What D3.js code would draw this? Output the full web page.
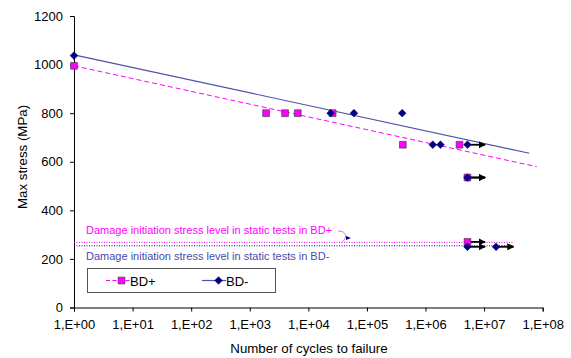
<!DOCTYPE html>
<html>
<head>
<meta charset="utf-8">
<script src="https://cdn.jsdelivr.net/npm/d3@7"></script>
<style>
  html, body { margin: 0; padding: 0; background: #fff; }
  svg { display: block; font-family: "Liberation Sans", Arial, sans-serif; }
</style>
</head>
<body>
<svg id="chart" width="571" height="358"></svg>
<script>
// S-N fatigue data: cycles to failure vs. max stress (MPa)
const bdPlusCycles  = [1, 1.9e3, 4.0e3, 6.6e3, 2.6e4, 4.1e5, 3.8e6, 5.2e6, 5.2e6];
const bdPlusStress  = [995, 800, 800, 800, 800, 670, 670, 535, 270];
const bdPlusRunout  = [0, 0, 0, 0, 0, 0, 0, 1, 1];

const bdMinusCycles = [1, 2.4e4, 6.0e4, 4.0e5, 1.33e6, 1.8e6, 5.2e6, 5.2e6, 5.2e6, 1.6e7];
const bdMinusStress = [1037, 800, 800, 800, 670, 670, 670, 535, 250, 250];
const bdMinusRunout = [0, 0, 0, 0, 0, 0, 1, 1, 1, 1];

// Log-linear trend lines: stress = a + b * log10(N), drawn up to N = end
const trendPlus  = { a: 995,  b: -52.6, end: 7.9e7 };
const trendMinus = { a: 1040, b: -52.1, end: 5.9e7 };

// Damage initiation stress levels from static tests
const staticPlus  = 268;
const staticMinus = 254;
const staticEnd   = 3.1e7;

const xTickExps  = [0, 1, 2, 3, 4, 5, 6, 7, 8];
const yTickVals  = [0, 200, 400, 600, 800, 1000, 1200];

const pink = "#ff00ff", navy = "#000080", blueLine = "#5050aa", blueText = "#4a4aa8";

const svg = d3.select("#chart");
const x = d3.scaleLog().domain([1, 1e8]).range([74, 542.7]);
const y = d3.scaleLinear().domain([0, 1200]).range([307.5, 16]);

// Axes
const xAxis = d3.axisBottom(x)
  .tickValues(xTickExps.map(e => Math.pow(10, e)))
  .tickFormat(d => "1,E+" + String(Math.round(Math.log10(d))).padStart(2, "0"))
  .tickSizeOuter(0).tickSize(4).tickPadding(8);
const yAxis = d3.axisLeft(y).tickValues(yTickVals).tickFormat(d3.format("d"))
  .tickSizeOuter(0).tickSize(4).tickPadding(7);

const gx = svg.append("g").attr("transform", `translate(0,${y(0)})`).call(xAxis);
const gy = svg.append("g").attr("transform", `translate(${x(1)},0)`).call(yAxis);
[gx, gy].forEach(g => {
  g.selectAll("path, line").attr("stroke", "#000").attr("stroke-width", 1);
  g.selectAll("text").attr("fill", "#000").attr("font-size", 13);
  g.select(".domain").attr("stroke", "#000");
});

svg.append("text")
  .attr("x", 309).attr("y", 353)
  .attr("text-anchor", "middle").attr("font-size", 13.3)
  .text("Number of cycles to failure");
svg.append("text")
  .attr("transform", "translate(27,157) rotate(-90)")
  .attr("text-anchor", "middle").attr("font-size", 13.3)
  .text("Max stress (MPa)");

// Static damage-initiation levels
svg.append("line")
  .attr("x1", x(1)).attr("x2", x(staticEnd))
  .attr("y1", y(staticPlus)).attr("y2", y(staticPlus))
  .attr("stroke", pink).attr("stroke-width", 1).attr("stroke-dasharray", "1,1.5");
svg.append("line")
  .attr("x1", x(1)).attr("x2", x(staticEnd))
  .attr("y1", y(staticMinus)).attr("y2", y(staticMinus))
  .attr("stroke", navy).attr("stroke-width", 1).attr("stroke-dasharray", "1,1.5");

svg.append("text")
  .attr("x", 86).attr("y", y(staticPlus) - 8)
  .attr("fill", pink).attr("font-size", 11)
  .text("Damage initiation stress level in static tests in BD+");
svg.append("text")
  .attr("x", 86).attr("y", y(staticMinus) + 14)
  .attr("fill", blueText).attr("font-size", 11)
  .text("Damage initiation stress level in static tests in BD-");

// Small curved pointer from the label to the BD+ level
svg.append("path")
  .attr("d", "M338,231 C347,231 348,238 341,243")
  .attr("fill", "none").attr("stroke", "#ee66ee").attr("stroke-width", 1);
svg.append("path")
  .attr("d", "M346,236 L351,238 L346,240 Z")
  .attr("fill", navy);

// Trend lines
function trendPoints(t) {
  return [1, t.end].map(n => [x(n), y(t.a + t.b * Math.log10(n))]);
}
svg.append("path")
  .attr("d", d3.line()(trendPoints(trendPlus)))
  .attr("fill", "none").attr("stroke", pink).attr("stroke-width", 1)
  .attr("stroke-dasharray", "5,3");
svg.append("path")
  .attr("d", d3.line()(trendPoints(trendMinus)))
  .attr("fill", "none").attr("stroke", blueLine).attr("stroke-width", 1.2);

// Run-out arrows (specimens that did not fail)
const defs = svg.append("defs");
defs.append("marker")
  .attr("id", "arrowHead").attr("viewBox", "0 0 10 10")
  .attr("refX", 9).attr("refY", 5)
  .attr("markerWidth", 4).attr("markerHeight", 4.5)
  .attr("markerUnits", "strokeWidth")
  .attr("orient", "auto")
  .append("path").attr("d", "M0,0 L10,5 L0,10 Z").attr("fill", "#000");

const runouts = [];
bdPlusCycles.forEach((n, i) => { if (bdPlusRunout[i]) runouts.push([n, bdPlusStress[i]]); });
bdMinusCycles.forEach((n, i) => { if (bdMinusRunout[i]) runouts.push([n, bdMinusStress[i]]); });
svg.append("g").selectAll("line").data(runouts).join("line")
  .attr("x1", d => x(d[0])).attr("x2", d => x(d[0] * 2))
  .attr("y1", d => y(d[1])).attr("y2", d => y(d[1]))
  .attr("stroke", "#000").attr("stroke-width", 1.8)
  .attr("marker-end", "url(#arrowHead)");

// Markers
const squareSym = d3.symbol().type(d3.symbolSquare).size(46);
const diamondSym = d3.symbol().type(d3.symbolSquare).size(30);

svg.append("g").selectAll("path").data(bdPlusCycles.map((n, i) => [n, bdPlusStress[i]])).join("path")
  .attr("d", squareSym)
  .attr("transform", d => `translate(${x(d[0])},${y(d[1])})`)
  .attr("fill", pink).attr("stroke", "#333").attr("stroke-width", 0.6);

svg.append("g").selectAll("path").data(bdMinusCycles.map((n, i) => [n, bdMinusStress[i]])).join("path")
  .attr("d", diamondSym)
  .attr("transform", d => `translate(${x(d[0])},${y(d[1])}) rotate(45)`)
  .attr("fill", navy).attr("stroke", navy).attr("stroke-width", 0.5);

// Legend
const lg = svg.append("g");
lg.append("rect")
  .attr("x", 87.5).attr("y", 268.5).attr("width", 188).attr("height", 24)
  .attr("fill", "#fff").attr("stroke", "#555").attr("stroke-width", 1);
lg.append("line")
  .attr("x1", 106).attr("x2", 130).attr("y1", 280.5).attr("y2", 280.5)
  .attr("stroke", pink).attr("stroke-dasharray", "4,2.5");
lg.append("path").attr("d", squareSym).attr("transform", "translate(121.5,280.5)")
  .attr("fill", pink).attr("stroke", "#333").attr("stroke-width", 0.6);
lg.append("text").attr("x", 130).attr("y", 285.5).attr("font-size", 13).text("BD+");
lg.append("line")
  .attr("x1", 202).attr("x2", 226).attr("y1", 280.5).attr("y2", 280.5)
  .attr("stroke", blueLine).attr("stroke-width", 1.2);
lg.append("path").attr("d", diamondSym)
  .attr("transform", "translate(218.5,280.5) rotate(45)")
  .attr("fill", navy).attr("stroke", navy).attr("stroke-width", 0.5);
lg.append("text").attr("x", 226).attr("y", 285.5).attr("font-size", 13).text("BD-");
</script>
</body>
</html>
